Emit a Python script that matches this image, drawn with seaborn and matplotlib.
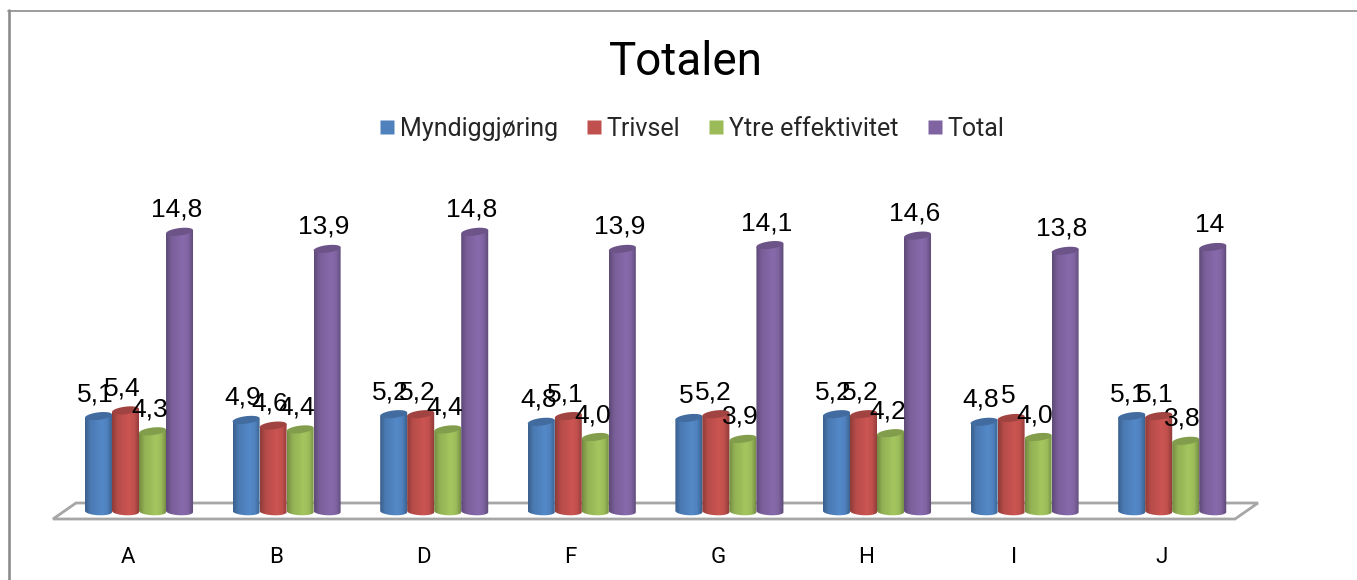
import numpy as np
import pandas as pd
import matplotlib
matplotlib.use("Agg")
import matplotlib.pyplot as plt
from matplotlib.path import Path
from matplotlib.patches import PathPatch, Polygon
from matplotlib.colors import LinearSegmentedColormap
from matplotlib.transforms import ScaledTranslation
from matplotlib.lines import Line2D
import seaborn as sns

units = ["A", "B", "D", "F", "G", "H", "I", "J"]
myndiggjoring = [5.1, 4.9, 5.2, 4.8, 5.0, 5.2, 4.8, 5.1]
trivsel = [5.4, 4.6, 5.2, 5.1, 5.2, 5.2, 5.0, 5.1]
ytre_effektivitet = [4.3, 4.4, 4.4, 4.0, 3.9, 4.2, 4.0, 3.8]
total = [14.8, 13.9, 14.8, 13.9, 14.1, 14.6, 13.8, 14.0]

series_names = ["Myndiggjøring", "Trivsel", "Ytre effektivitet", "Total"]
series_values = [myndiggjoring, trivsel, ytre_effektivitet, total]
series_colors = ["#4F81BD", "#C0504D", "#9BBB59", "#8064A2"]
# Ytre effektivitet keeps one decimal throughout; the others drop a trailing ,0
label_formats = ["{:g}", "{:g}", "{:.1f}", "{:g}"]

W, H = 1357, 580
DPI = 100
sns.set_theme(style="white")
plt.rcParams["font.family"] = ["Liberation Sans", "DejaVu Sans"]
HEAD_FONT = ["Roboto", "Liberation Sans"]

fig = plt.figure(figsize=(W / DPI, H / DPI), dpi=DPI, facecolor="white")

# Axes placed so one category spans 147.6 px and one unit of value 19 px
ax_left, ax_right, ax_top, ax_bottom = 53, 1258, 190, 530
ax = fig.add_axes([ax_left / W, 1 - ax_bottom / H,
                   (ax_right - ax_left) / W, (ax_bottom - ax_top) / H])
PX_X = 147.6
PX_Y = 19.0
BASE_Y = 513
FIRST_X = 139

df = pd.DataFrame({"enhet": units * 4,
                   "serie": np.repeat(series_names, len(units)),
                   "verdi": np.concatenate(series_values)})
sns.barplot(data=df, x="enhet", y="verdi", hue="serie", order=units,
            hue_order=series_names, palette=series_colors, saturation=1,
            width=0.732, gap=0, ax=ax, legend=False)

xlim = ((ax_left - FIRST_X) / PX_X, (ax_right - FIRST_X) / PX_X)
ylim = ((BASE_Y - ax_bottom) / PX_Y, (BASE_Y - ax_top) / PX_Y)
ax.set_xlim(*xlim)
ax.set_ylim(*ylim)
ax.axis("on")
for s in ax.spines.values():
    s.set_visible(False)
ax.patch.set_alpha(0)
ax.set_xlabel("")
ax.set_ylabel("")
ax.set_yticks([])
ax.tick_params(axis="x", length=0, pad=0)

# Category labels sit left of the bars, below the front edge of the floor
shift = ScaledTranslation(-11 / DPI, -17 / DPI, fig.dpi_scale_trans)
for lab in ax.get_xticklabels():
    lab.set_transform(lab.get_transform() + shift)
    lab.set_fontsize(16)
    lab.set_color("black")
    lab.set_family(HEAD_FONT)

# Floor slab drawn behind the bars
dx = 1 / PX_X
dy = 1 / PX_Y
to_data = lambda px, py: ((px - FIRST_X) * dx, (BASE_Y - py) * dy)
floor = Polygon([to_data(53, 519), to_data(1235, 519),
                 to_data(1258, 503), to_data(76, 503)], closed=True,
                facecolor="white", edgecolor="#A6A6A6", linewidth=2, zorder=0.5,
                clip_on=False)
ax.add_patch(floor)


def shade(hex_color):
    rgb = np.array(matplotlib.colors.to_rgb(hex_color))
    return LinearSegmentedColormap.from_list(
        "cyl", [rgb * 0.74, rgb * 0.95, rgb * 1.0,
                np.minimum(rgb * 1.06, 1), rgb * 1.0, rgb * 0.72],
    )


ELL_H = 7.5 * dy
TILT = 1.6 * dy
RIM_LIFT = 1.5 * dy
for order, (container, color, fmt, values) in enumerate(
        zip(ax.containers, series_colors, label_formats, series_values)):
    cmap = shade(color)
    rgb = np.array(matplotlib.colors.to_rgb(color))
    for bar, value in zip(container, values):
        x0, w = bar.get_x(), bar.get_width()
        top = bar.get_height()
        cx = x0 + w / 2
        bar.set_visible(False)
        z = 2 + order * 0.1
        t_low = np.linspace(np.pi, 2 * np.pi, 30)
        # Body: straight sides with a rounded lower rim
        body_x = np.r_[cx + w / 2 * np.cos(t_low), x0 + w, x0]
        body_y = np.r_[RIM_LIFT + ELL_H / 2 * np.sin(t_low) - TILT * 0.4 * np.cos(t_low),
                       top + TILT, top - TILT]
        clip = PathPatch(Path(np.c_[body_x, body_y]), transform=ax.transData,
                         facecolor="none", edgecolor="none")
        ax.add_patch(clip)
        im = ax.imshow(np.linspace(0, 1, 64).reshape(1, -1), cmap=cmap,
                       extent=(x0, x0 + w, -1, top + 1), aspect="auto", zorder=z,
                       vmin=0, vmax=1, interpolation="bilinear")
        im.set_clip_path(clip)
        # Top cap, tipped slightly up towards the right
        t = np.linspace(0, 2 * np.pi, 60)
        cap = np.c_[cx + w / 2 * np.cos(t),
                    top + ELL_H / 2 * np.sin(t) + TILT * np.cos(t)]
        ax.add_patch(Polygon(cap, closed=True, facecolor=rgb * 0.84,
                             edgecolor="none", zorder=z + 0.01))
        ax.annotate(fmt.format(value).replace(".", ","), (cx, top),
                    xytext=(-3 / DPI * 72, 10 / DPI * 72),
                    textcoords="offset points", ha="center", va="bottom",
                    fontsize=19, color="black", zorder=10, annotation_clip=False)

ax.set_xlim(*xlim)
ax.set_ylim(*ylim)

# Legend with square swatches
handles = [Line2D([], [], linestyle="none", marker="s", markersize=9.4,
                  markerfacecolor=c, markeredgecolor="none")
           for c in series_colors]
fig.legend(handles, series_names, ncol=4, loc="center",
           bbox_to_anchor=(690.5 / W, 1 - 129 / H), frameon=False,
           prop={"family": HEAD_FONT, "size": 18}, handletextpad=0.1,
           columnspacing=1.05, handlelength=0.8)

fig.text(686 / W, 1 - 62 / H, "Totalen", ha="center", va="center",
         fontsize=33, family=HEAD_FONT, color="black")

# Chart area frame along the top and left
color_frame = "#8C8C8C"
fig.add_artist(Line2D([8 / W, 1], [1 - 10.5 / H, 1 - 10.5 / H], color=color_frame,
                      linewidth=1.2, transform=fig.transFigure))
fig.add_artist(Line2D([9.2 / W, 9.2 / W], [0, 1 - 10 / H], color=color_frame,
                      linewidth=1.9, transform=fig.transFigure))

fig.savefig("out.png", dpi=DPI, facecolor="white")
